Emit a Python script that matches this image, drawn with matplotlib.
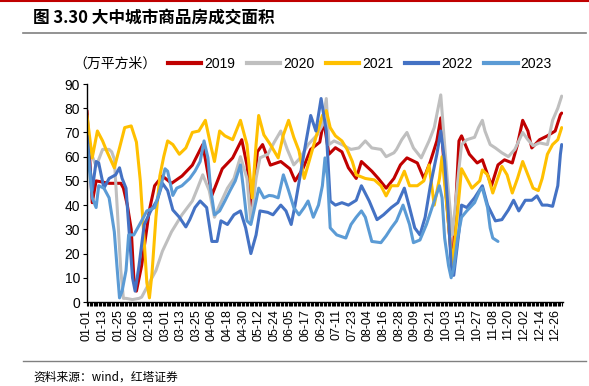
import matplotlib
matplotlib.use("Agg")
import matplotlib.pyplot as plt
from matplotlib.lines import Line2D
import numpy as np

plt.rcParams['font.family'] = ['Liberation Sans', 'Noto Sans CJK SC', 'DejaVu Sans']

# ---- data (day of year offset from 01-01, value in 万平方米) ----
tick_labels = ["01-01", "01-13", "01-25", "02-06", "02-18", "03-01", "03-13", "03-25",
               "04-06", "04-18", "04-30", "05-12", "05-24", "06-05", "06-17", "06-29",
               "07-11", "07-23", "08-04", "08-16", "08-28", "09-09", "09-21", "10-03",
               "10-15", "10-27", "11-08", "11-20", "12-02", "12-14", "12-26"]
tick_days = [0, 12, 24, 36, 48, 60, 72, 84, 96, 108, 120, 132, 144, 156, 168, 180,
             192, 204, 216, 228, 240, 252, 264, 276, 288, 300, 312, 324, 336, 348, 360]

d2019 = [0, 4, 7, 17, 26, 28, 31, 34, 36, 38, 42, 48, 52, 58, 65, 73, 81, 89, 96, 104,
         112, 119, 123, 127, 131, 135, 141, 149, 156, 160, 166, 172, 179, 182, 186, 191,
         196, 201, 207, 211, 219, 224, 230, 236, 241, 246, 254, 259, 264, 269, 272, 276,
         281, 286, 288, 294, 300, 304, 311, 316, 321, 327, 331, 335, 339, 342, 348, 354,
         360, 364, 365]
v2019 = [79, 41, 50, 49, 49, 47, 40, 30, 10, 4.5, 15, 38, 48, 52, 49, 52, 56.5, 65, 44, 55,
         59.5, 67, 56.5, 38, 62, 65, 56.5, 58, 55, 50, 55, 63, 66, 75, 61, 63.7,
         62, 55.4, 51, 58, 54, 51, 47, 51, 56.6, 59.5, 57.4, 51, 58, 66.5, 76, 45,
         13, 66.5, 68.6, 61, 57.4, 58.7, 48, 56.6, 58.7, 57.4, 65, 75, 70.6, 63.6, 67, 68.6,
         70.6, 77.3, 78]

d2020 = [0, 7, 12, 17, 19, 21, 23, 26, 28, 30, 35, 40, 42, 48, 53, 58, 65, 73, 81, 85,
         89, 94, 98, 102, 108, 113, 118, 123, 126, 130, 133, 139, 144, 149, 154, 159, 164,
         170, 177, 181, 184, 186, 190, 196, 203, 209, 214, 219, 226, 230, 236, 238, 242,
         246, 251, 257, 263, 267, 272, 277, 281, 286, 288, 292, 298, 301, 304, 306, 310,
         314, 319, 324, 329, 335, 339, 343, 348, 354, 358, 362, 365]
v2020 = [66, 56, 63, 63, 62, 59, 41, 13, 1.5, 1.5, 1, 1.5, 2, 8, 13, 21, 29, 36, 41.7, 47,
         52.5, 46, 35, 40, 47, 51, 60, 51, 33, 51, 59.5, 61, 66, 70.6, 63, 56.6, 59.5,
         65, 69, 73, 84, 65, 66.5, 65, 63, 63.6, 66.5, 63.6, 63, 60, 61.6, 63, 67,
         70, 63.6, 59.5, 66.5, 72, 85.5, 51, 27.7, 55, 65, 67, 68, 72, 75, 70.6, 65,
         63.6, 61.6, 60, 63, 70, 67, 64.5, 65.7, 65, 75, 80, 85]

d2021 = [0, 4, 8, 12, 15, 21, 25, 29, 34, 38, 41, 44, 46, 48, 50, 53, 56, 59, 62, 66,
         71, 76, 81, 86, 91, 95, 98, 102, 106, 112, 118, 123, 127, 130, 132, 136, 141,
         147, 151, 155, 159, 163, 167, 170, 176, 181, 184, 187, 191, 196, 200, 204, 207,
         214, 221, 226, 230, 234, 239, 244, 248, 254, 259, 263, 267, 271, 273, 277, 281,
         285, 288, 292, 296, 302, 304, 308, 312, 319, 323, 327, 331, 335, 339, 343, 347,
         350, 354, 358, 362, 365]
v2021 = [77, 59.5, 70.6, 66.5, 62.5, 55.4, 63.6, 72, 72.7, 66, 50, 25, 8, 1.7, 12, 35,
         52, 60, 66.5, 65, 61, 63.6, 70, 70.6, 75, 65, 58, 70.6, 68.6, 67, 75, 65, 43,
         65, 77, 69, 65, 59.5, 69, 75, 68, 62.4, 51, 56.6, 68, 77, 79, 72, 68.6, 66.5,
         63, 58, 52.5, 51, 50.4, 48, 43.8, 48, 48, 54, 48, 48, 50, 56.6, 40, 51, 60,
         37.6, 15, 37.6, 55, 51, 47, 50, 54.5, 52.5, 45, 56, 52.5, 45, 51, 58, 52.5, 47,
         46, 51, 61, 65, 67, 72]

d2022 = [0, 4, 7, 9, 13, 17, 22, 25, 27, 30, 32, 35, 37, 40, 44, 49, 54, 58, 62, 66,
         71, 76, 79, 83, 87, 92, 96, 100, 103, 108, 113, 118, 122, 126, 130, 133, 139,
         143, 149, 153, 157, 160, 164, 168, 172, 176, 180, 184, 187, 191, 196, 201, 207,
         211, 217, 223, 228, 234, 239, 244, 248, 252, 256, 260, 264, 269, 272, 275, 278,
         280, 282, 286, 288, 292, 298, 304, 308, 314, 319, 324, 328, 332, 337, 342, 346,
         350, 354, 358, 362, 364, 365]
v2022 = [68.6, 46, 58, 57.4, 47, 51, 52.5, 55.4, 51, 47, 32, 10, 4.5, 15, 32, 37.6, 42,
         49, 46, 38, 35, 31, 34, 39, 41.7, 39, 25, 25, 33.5, 32, 36, 37.6, 30.6, 20,
         27.7, 37.6, 37, 36, 40, 37.6, 32, 40, 52.5, 65, 77, 70.6, 84, 70.6, 41.7, 40,
         41, 40, 42, 48, 41.7, 34, 36, 39, 41, 47, 39, 30.6, 27.7, 35, 48, 61, 70.6, 58,
         35, 15, 11, 29, 40, 39, 43, 48, 40, 33.5, 34, 38, 42, 37.6, 42, 42, 43.8, 40,
         40, 39.5, 48, 61, 65]

d2023 = [0, 4, 7, 9, 13, 17, 21, 23, 25, 27, 30, 32, 36, 42, 46, 52, 56, 60, 62, 66,
         69, 73, 79, 83, 87, 90, 93, 95, 98, 102, 106, 110, 114, 118, 120, 123, 126, 130,
         132, 136, 140, 143, 147, 151, 155, 159, 163, 167, 170, 174, 178, 181, 183, 185,
         187, 192, 199, 203, 207, 211, 214, 219, 226, 230, 234, 238, 243, 248, 251, 256,
         261, 267, 271, 273, 275, 278, 280, 282, 285, 288, 292, 298, 302, 304, 308, 310,
         312, 316]
v2023 = [65, 43, 39, 48, 47, 43, 29, 15, 1.7, 4.5, 13, 27.7, 27.7, 33.5, 37.6, 39, 46,
         55, 54, 44, 47, 48, 51, 54, 58, 66.5, 59.5, 47, 36, 37.6, 41.7, 46, 50, 56.6,
         48, 33.5, 32, 41.7, 47, 43, 44, 43.8, 43, 52.5, 46, 39, 36, 39, 41.7, 35, 40,
         48, 59.5, 51, 30.6, 27.7, 26.4, 32, 35, 37.6, 35, 25, 24.5, 27.3, 30.6, 33.5,
         40, 32, 24.5, 25.6, 32, 41.7, 48, 43, 26.4, 15, 10, 14, 26.4, 35, 37.6, 41, 46,
         47, 39, 30.6, 26.4, 25]

series = [("2019", d2019, v2019, "#C00000"),
          ("2020", d2020, v2020, "#BFBFBF"),
          ("2021", d2021, v2021, "#FFC000"),
          ("2022", d2022, v2022, "#4472C4"),
          ("2023", d2023, v2023, "#5B9BD5")]

W, H = 589, 386
fig = plt.figure(figsize=(W / 100, H / 100), dpi=100)
ax = fig.add_axes([87 / W, 1 - 302 / H, (563 - 87) / W, (302 - 84) / H])

handles = []
for name, d, v, c in series:
    ln, = ax.plot(d, v, color=c, lw=2.2, solid_joinstyle='round', solid_capstyle='round')
    handles.append(Line2D([], [], color=c, lw=3))

ax.set_xlim(0, 366)
ax.set_ylim(0, 90)
ax.set_yticks(np.arange(0, 91, 10))
ax.set_xticks(tick_days)
ax.set_xticklabels(tick_labels, rotation=90, fontsize=9)
ax.set_xticks(np.arange(0, 366), minor=True)
ax.tick_params(axis='x', which='both', length=3, width=0.8, direction='out', pad=2)
ax.tick_params(axis='y', length=3, width=0.8, direction='out', labelsize=10, pad=2)
for s in ['top', 'right']:
    ax.spines[s].set_visible(False)
for s in ['left', 'bottom']:
    ax.spines[s].set_linewidth(1.0)
    ax.spines[s].set_color('black')

# title and decorations
fig.text(33 / W, 1 - 18 / H, "图 3.30 大中城市商品房成交面积", fontsize=12, fontweight='bold',
         family=['Noto Sans CJK SC'], va='center', ha='left')
fig.add_artist(Line2D([23 / W, 586 / W], [1 - 33 / H, 1 - 33 / H], color='#808080', lw=1.2))
fig.add_artist(Line2D([0, 1], [1 - 1 / H, 1 - 1 / H], color='#C00000', lw=1.5))
fig.add_artist(Line2D([23 / W, 586 / W], [1 - 361 / H, 1 - 361 / H], color='#808080', lw=1.0))
fig.text(33 / W, 1 - 377 / H, "资料来源：wind，红塔证券", fontsize=8.5,
         family=['Noto Sans CJK SC'], va='center', ha='left')

fig.text(73 / W, 1 - 64 / H, "（万平方米）", fontsize=10, family=['Noto Sans CJK SC'],
         va='center', ha='left')
fig.legend(handles, [s[0] for s in series], loc='center left',
           bbox_to_anchor=(168 / W, 1 - 64 / H), ncol=5, frameon=False, fontsize=10,
           handlelength=2.4, handletextpad=0.2, columnspacing=0.85, borderpad=0,
           borderaxespad=0)

fig.savefig("out.png", dpi=100)
